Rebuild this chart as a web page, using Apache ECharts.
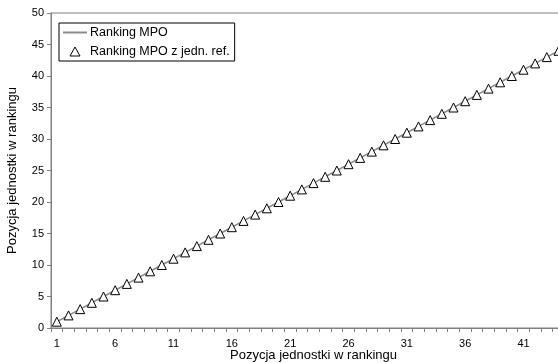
<!DOCTYPE html>
<html>
<head>
<meta charset="utf-8">
<script src="https://cdn.jsdelivr.net/npm/echarts@6/dist/echarts.min.js"></script>
<style>
html,body{margin:0;padding:0;background:#fff;overflow:hidden;}
#chart{width:558px;height:363px;}
</style>
</head>
<body>
<div id="chart"></div>
<script>
const categories = ['1','2','3','4','5','6','7','8','9','10','11','12','13','14','15','16','17','18','19','20','21','22','23','24','25','26','27','28','29','30','31','32','33','34','35','36','37','38','39','40','41','42','43','44','45'];
const rankingMPO = [1,2,3,4,5,6,7,8,9,10,11,12,13,14,15,16,17,18,19,20,21,22,23,24,25,26,27,28,29,30,31,32,33,34,35,36,37,38,39,40,41,42,43,44,45];
const rankingMPORef = [1,2,3,4,5,6,7,8,9,10,11,12,13,14,15,16,17,18,19,20,21,22,23,24,25,26,27,28,29,30,31,32,33,34,35,36,37,38,39,40,41,42,43,44,45];
const yTicks = {min: 0, max: 50, interval: 5};
const seriesNames = ['Ranking MPO', 'Ranking MPO z jedn. ref.'];
const xTitle = 'Pozycja jednostki w rankingu';
const yTitle = 'Pozycja jednostki w rankingu';

const font = 'Liberation Sans, Arial, sans-serif';
const chart = echarts.init(document.getElementById('chart'), null, {renderer: 'canvas'});
chart.setOption({
  animation: false,
  backgroundColor: '#fff',
  grid: {left: 51, top: 13, width: 525, height: 315, outerBoundsMode: 'none', containLabel: false,
         show: true, borderColor: '#808080', borderWidth: 1, backgroundColor: 'transparent'},
  legend: {
    orient: 'vertical', left: 59, top: 23,
    padding: [3, 5, 3, 4], itemGap: 6,
    itemWidth: 24, itemHeight: 9, symbolKeepAspect: true,
    borderColor: '#000', borderWidth: 1, backgroundColor: '#fff', borderRadius: 0,
    textStyle: {fontFamily: font, fontSize: 12.5, color: '#000', padding: [0,0,0,-2]},
    data: [
      {name: seriesNames[0], icon: 'path://M0,0 L24,0 L24,2 L0,2 Z', itemStyle: {color: '#8c8c8c', borderWidth: 0}},
      {name: seriesNames[1], icon: 'path://M5,0 L10,9 L0,9 Z', itemStyle: {color: '#fff', borderColor: '#000', borderWidth: 1}}
    ]
  },
  xAxis: {
    type: 'category', data: categories, boundaryGap: true,
    name: xTitle, nameLocation: 'middle', nameGap: 21, nameMoveOverlap: false,
    nameTextStyle: {fontFamily: font, fontSize: 13, color: '#000'},
    axisLine: {lineStyle: {color: '#808080', width: 1}},
    axisTick: {show: true, interval: 0, length: 4, lineStyle: {color: '#808080'}},
    axisLabel: {interval: 4, fontFamily: font, fontSize: 11, color: '#000', margin: 10},
    splitLine: {show: false}
  },
  yAxis: {
    type: 'value', min: yTicks.min, max: yTicks.max, interval: yTicks.interval,
    name: yTitle, nameLocation: 'middle', nameGap: 32, nameMoveOverlap: false,
    nameTextStyle: {fontFamily: font, fontSize: 13, color: '#000'},
    axisLine: {show: true, lineStyle: {color: '#808080', width: 1}},
    axisTick: {show: true, length: 4, lineStyle: {color: '#808080'}},
    axisLabel: {fontFamily: font, fontSize: 11, color: '#000', margin: 7},
    splitLine: {show: false}
  },
  series: [
    {
      name: seriesNames[0], type: 'line', data: rankingMPO,
      symbol: 'none', showSymbol: false,
      lineStyle: {color: '#8c8c8c', width: 1.6},
      itemStyle: {color: '#8c8c8c'},
      z: 2
    },
    {
      name: seriesNames[1], type: 'scatter', data: rankingMPORef,
      symbol: 'triangle', symbolSize: 9,
      itemStyle: {color: '#fff', borderColor: '#000', borderWidth: 1, opacity: 1},
      z: 3
    }
  ]
});
</script>
</body>
</html>
